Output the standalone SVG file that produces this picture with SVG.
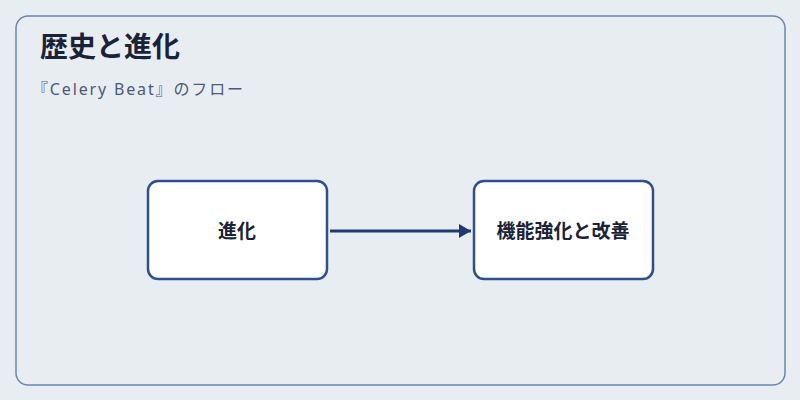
<svg xmlns="http://www.w3.org/2000/svg" width="800" height="400" viewBox="0 0 800 400">
<style>
.t{font-family:"Noto Sans","Noto Sans CJK JP",sans-serif}
.n{fill:#fff;stroke:#2f4f8f;stroke-width:2.5}
.l{font-size:19px;font-weight:bold;fill:#1a2238;text-anchor:middle;dominant-baseline:central}
</style>
<defs><marker id="a" markerWidth="14" markerHeight="14" refX="12" refY="7" orient="auto" markerUnits="userSpaceOnUse" viewBox="0 0 14 14"><path d="M0,0L12,7L0,14z" fill="#1f3a73"/></marker></defs>
<rect x="0" y="0" width="800" height="400" fill="#e8edf2"/>
<rect x="16" y="16" width="769" height="369" rx="12" fill="#e8edf2" stroke="#6a84b4" stroke-width="1.5"/>
<text class="t" x="40" y="57" font-size="28" font-weight="bold" fill="#1a2238">歴史と進化</text>
<text class="t" x="32" y="95" font-size="16" fill="#4a5a78" textLength="211" lengthAdjust="spacing">『Celery Beat』のフロー</text>
<g id="edges"><line x1="330" y1="231" x2="471" y2="231" stroke="#1f3a73" stroke-width="3" marker-end="url(#a)"/></g>
<g id="n1"><rect class="n" x="148" y="181" width="179" height="98" rx="10"/><text class="t l" x="237" y="231">進化</text></g>
<g id="n2"><rect class="n" x="474" y="181" width="179" height="98" rx="10"/><text class="t l" x="563" y="231">機能強化と改善</text></g>
</svg>
